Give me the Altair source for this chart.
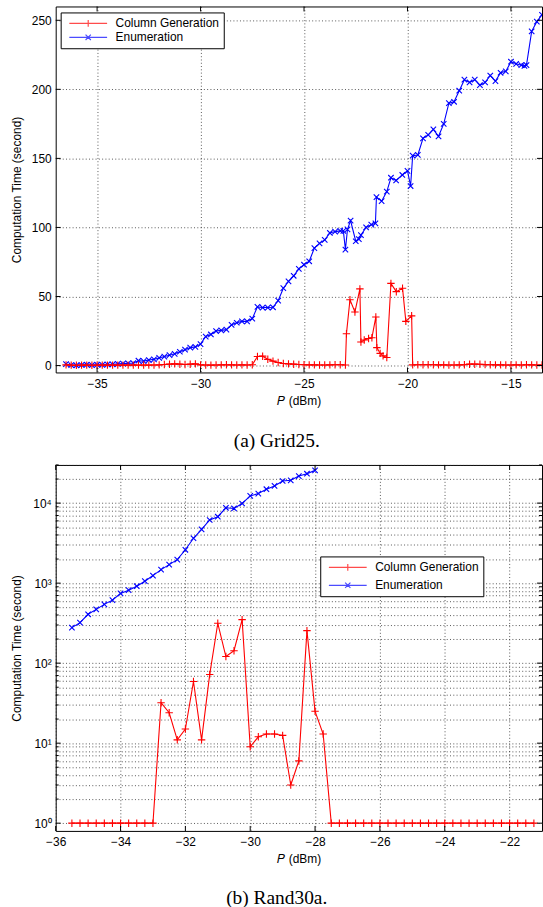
import altair as alt
import pandas as pd

# ---------------- (a) Grid25 : transmit power P (dBm) vs. computation time (s)
grid_cg_p = [
    -36.5, -36.25, -36.0, -35.75, -35.5, -35.25, -35.0, -34.75, -34.5, -34.25,
    -34.0, -33.75, -33.5, -33.25, -33.0, -32.75, -32.5, -32.25, -32.0, -31.75,
    -31.5, -31.25, -31.0, -30.75, -30.5, -30.25, -30.0, -29.75, -29.5, -29.25,
    -29.0, -28.75, -28.5, -28.25, -28.0, -27.75, -27.5, -27.25, -27.0, -26.75,
    -26.5, -26.25, -26.0, -25.75, -25.5, -25.25, -25.0, -24.75, -24.5, -24.25,
    -24.0, -23.75, -23.5, -23.25, -23.0, -22.95, -22.78, -22.54, -22.3, -22.25,
    -22.09, -21.88, -21.72, -21.53, -21.48, -21.32, -21.18, -21.0, -20.8, -20.54,
    -20.24, -20.08, -19.8, -19.75, -19.5, -19.25, -19.0, -18.75, -18.5, -18.25,
    -18.0, -17.75, -17.5, -17.25, -17.0, -16.75, -16.5, -16.25, -16.0, -15.75,
    -15.5, -15.25, -15.0, -14.75, -14.5, -14.25, -14.0, -13.75, -13.5]
grid_cg_t = [
    0.5, 0.3, 0.2, 0.3, 0.3, 0.2, 0.3, 0.3, 0.3, 0.3,
    0.3, 0.3, 0.3, 0.3, 0.3, 0.4, 0.3, 0.4, 0.5, 0.8,
    1.0, 1.2, 1.0, 0.8, 1.0, 1.2, 0.5, 0.4, 0.3, 0.4,
    0.5, 0.6, 0.5, 0.4, 0.5, 0.4, 0.6, 6.5, 6.8, 4.5,
    3.2, 2.2, 1.5, 1.2, 1.0, 0.8, 0.6, 0.5, 0.5, 0.4,
    0.4, 0.5, 0.6, 0.6, 0.4, 23.0, 47.6, 38.8, 55.5, 17.0,
    18.5, 19.6, 20.1, 35.2, 13.0, 8.8, 7.0, 5.8, 59.5, 53.5,
    56.0, 32.0, 36.0, 0.5, 0.6, 0.6, 0.6, 0.6, 0.5, 0.5,
    0.4, 0.4, 0.5, 0.6, 1.0, 1.0, 0.9, 0.7, 0.6, 0.5,
    0.5, 0.4, 0.4, 0.5, 0.4, 0.6, 0.5, 0.4, 0.4]
grid_en_p = [
    -36.5, -36.25, -36.0, -35.75, -35.5, -35.25, -35.0, -34.75, -34.5, -34.25,
    -34.0, -33.75, -33.5, -33.25, -33.0, -32.75, -32.5, -32.25, -32.0, -31.75,
    -31.5, -31.25, -31.0, -30.75, -30.5, -30.25, -30.0, -29.75, -29.5, -29.25,
    -29.0, -28.75, -28.5, -28.25, -28.0, -27.75, -27.5, -27.25, -27.0, -26.75,
    -26.5, -26.25, -26.0, -25.75, -25.5, -25.25, -25.0, -24.75, -24.5, -24.25,
    -24.0, -23.75, -23.5, -23.25, -23.1, -23.0, -22.9, -22.75, -22.5, -22.35,
    -22.25, -22.0, -21.75, -21.55, -21.5, -21.25, -21.0, -20.8, -20.55, -20.25,
    -20.0, -19.85, -19.75, -19.5, -19.25, -19.0, -18.75, -18.5, -18.25, -18.0,
    -17.75, -17.5, -17.25, -17.0, -16.75, -16.5, -16.25, -16.0, -15.75, -15.5,
    -15.25, -15.0, -14.75, -14.5, -14.35, -14.25, -14.0, -13.75, -13.5]
grid_en_t = [
    1.0, 0.3, 0.2, 0.4, 0.6, 0.3, 0.6, 0.5, 0.9, 0.8,
    1.2, 1.4, 1.6, 1.8, 3.5, 3.2, 4.0, 4.5, 5.5, 6.5,
    7.5, 8.5, 10.0, 11.5, 13.0, 13.5, 15.5, 21.0, 22.5, 25.0,
    25.5, 26.0, 29.5, 31.0, 32.0, 32.0, 34.0, 42.5, 42.0, 42.0,
    42.2, 47.0, 56.0, 61.0, 65.0, 70.0, 73.0, 75.5, 85.0, 88.5,
    91.0, 96.0, 97.0, 97.5, 97.5, 84.0, 98.6, 105.0, 90.0, 91.5,
    94.5, 100.0, 102.0, 103.0, 122.0, 119.0, 126.0, 136.0, 134.0, 138.0,
    141.0, 130.0, 152.0, 152.5, 164.5, 167.0, 171.0, 166.0, 175.0, 190.0,
    191.0, 199.0, 207.0, 205.0, 207.0, 203.0, 205.0, 210.0, 206.0, 212.0,
    213.0, 220.0, 218.5, 217.5, 217.0, 217.5, 242.0, 249.0, 254.0]

# ---------------- (b) Rand30a
rand_cg_p = [
    -35.5, -35.25, -35.0, -34.75, -34.5, -34.25, -34.0, -33.75, -33.5, -33.25,
    -33.0, -32.75, -32.5, -32.25, -32.0, -31.75, -31.5, -31.25, -31.0, -30.75,
    -30.5, -30.25, -30.0, -29.75, -29.5, -29.25, -29.0, -28.75, -28.5, -28.25,
    -28.0, -27.75, -27.5, -27.25, -27.0, -26.75, -26.5, -26.25, -26.0, -25.75,
    -25.5, -25.25, -25.0, -24.75, -24.5, -24.25, -24.0, -23.75, -23.5, -23.25,
    -23.0, -22.75, -22.5, -22.25, -22.0, -21.75, -21.5, -21.25]
rand_cg_t = [
    1, 1, 1, 1, 1, 1, 1, 1, 1, 1,
    1, 32, 24, 11, 15, 59, 11, 72, 315, 121,
    143, 350, 9, 12, 13, 13, 12.5, 3, 6, 255,
    25, 13, 1, 1, 1, 1, 1, 1, 1, 1,
    1, 1, 1, 1, 1, 1, 1, 1, 1, 1,
    1, 1, 1, 1, 1, 1, 1, 1]
rand_en_p = [
    -35.5, -35.25, -35.0, -34.75, -34.5, -34.25, -34.0, -33.75, -33.5, -33.25,
    -33.0, -32.75, -32.5, -32.25, -32.0, -31.75, -31.5, -31.25, -31.0, -30.75,
    -30.5, -30.25, -30.0, -29.75, -29.5, -29.25, -29.0, -28.75, -28.5, -28.25,
    -28.0]
rand_en_t = [
    278, 321, 408, 470, 543, 613, 743, 817, 915, 1057,
    1243, 1475, 1703, 1963, 2612, 3638, 4701, 6150, 6761, 8745,
    8570, 9890, 12300, 13150, 14920, 16400, 18900, 19280, 21800, 23300,
    25660]

# ---------------- axes
grid_xticks = [-35, -30, -25, -20, -15]
grid_yticks = [0, 50, 100, 150, 200, 250]
rand_xticks = [-36, -34, -32, -30, -28, -26, -24, -22]
rand_ydecades = [1, 10, 100, 1000, 10000]
rand_yminor = [2, 3, 4, 5, 6, 7, 8, 9,
               20, 30, 40, 50, 60, 70, 80, 90,
               200, 300, 400, 500, 600, 700, 800, 900,
               2000, 3000, 4000, 5000, 6000, 7000, 8000, 9000,
               20000, 30000]
decade_labels = ["10\u2070", "10\u00b9", "10\u00b2", "10\u00b3", "10\u2074"]

SERIES = ["Column Generation", "Enumeration"]
RED, BLUE = "#ff0000", "#0000ff"
SANS, SERIF = "Liberation Sans", "Liberation Serif"
W, H = 489, 368

PLUS = "M-1,0H1M0,-1V1"
CROSS = "M-1,-1L1,1M-1,1L1,-1"
LEG_PLUS = "M-1,0H1M0,-0.18V0.18"
LEG_CROSS = "M-1,0H1M-0.14,-0.14L0.14,0.14M-0.14,0.14L0.14,-0.14"

GRID = dict(grid=True, gridColor="#222222", gridOpacity=0.75, gridDash=[1, 2.3], gridWidth=1)
TEXT = dict(labelFont=SANS, labelFontSize=12, labelColor="black",
            titleFont=SANS, titleFontSize=12, titleFontWeight="normal", titleColor="black",
            ticks=False, tickSize=0, domain=False, labelOverlap=False)


def x_axis(values):
    return alt.Axis(values=values, title="\U0001d443 (dBm)", labelPadding=6, titlePadding=6,
                    labelFlush=False, **GRID, **TEXT)


def y_axis(values, label_expr=None):
    extra = {"labelExpr": label_expr} if label_expr else {}
    return alt.Axis(values=values, title="Computation Time (second)", labelPadding=4.5,
                    minExtent=26, maxExtent=26, titlePadding=6, **GRID, **TEXT, **extra)


def legend(lx, ly, row_pad):
    return alt.Legend(title=None, orient="none", legendX=lx, legendY=ly,
                      fillColor="white", strokeColor="black", padding=4.5,
                      symbolSize=1444, symbolStrokeWidth=1.2, symbolOffset=3.2,
                      labelFont=SANS, labelFontSize=12, labelColor="black", labelOffset=7.5,
                      clipHeight=13, rowPadding=row_pad)


def panel(cg_p, cg_t, en_p, en_t, xs, ys, xax, yax, xticks, ymajor, yminor, leg, caption, cap_off):
    X = alt.X("p:Q", scale=xs, axis=xax)
    Y = alt.Y("t:Q", scale=ys, axis=yax)
    cg = pd.DataFrame({"p": cg_p, "t": cg_t})
    en = pd.DataFrame({"p": en_p, "t": en_t})

    layers = []
    for df, col, shape, size in [(en, BLUE, CROSS, 30), (cg, RED, PLUS, 56)]:
        base = alt.Chart(df)
        layers.append(base.mark_line(color=col, strokeWidth=1.1, clip=True).encode(x=X, y=Y))
        layers.append(base.mark_point(shape=shape, size=size, color=col, filled=False,
                                      strokeWidth=1.1, opacity=1, clip=True).encode(x=X, y=Y))

    # inward tick marks on all four sides of the box
    xt = alt.Chart(pd.DataFrame({"p": xticks}))
    layers.append(xt.mark_rule(color="black").encode(x=X, y=alt.value(0), y2=alt.value(5)))
    layers.append(xt.mark_rule(color="black").encode(x=X, y=alt.value(H), y2=alt.value(H - 5)))
    for vals, ln in [(ymajor, 5), (yminor, 3)]:
        if not vals:
            continue
        yt = alt.Chart(pd.DataFrame({"t": vals}))
        layers.append(yt.mark_rule(color="black").encode(y=Y, x=alt.value(0), x2=alt.value(ln)))
        layers.append(yt.mark_rule(color="black").encode(y=Y, x=alt.value(W), x2=alt.value(W - ln)))

    # legend entries (symbols only appear in the legend box)
    lg = pd.DataFrame({"series": SERIES})
    layers.append(alt.Chart(lg).mark_point(filled=False, clip=True, strokeWidth=1.2).encode(
        x=alt.value(-60), y=alt.value(-60),
        color=alt.Color("series:N", scale=alt.Scale(domain=SERIES, range=[RED, BLUE]), legend=leg),
        shape=alt.Shape("series:N", scale=alt.Scale(domain=SERIES, range=[LEG_PLUS, LEG_CROSS]),
                        legend=leg),
    ))

    return alt.layer(*layers).properties(
        width=W, height=H,
        title=alt.TitleParams(caption, orient="bottom", font=SERIF, fontSize=19.5,
                              fontWeight="normal", color="black", offset=cap_off,
                              anchor="middle", frame="bounds"),
    )


label_expr = ("datum.value == 1 ? '%s' : datum.value == 10 ? '%s' : datum.value == 100 ? '%s' : "
              "datum.value == 1000 ? '%s' : datum.value == 10000 ? '%s' : ''") % tuple(decade_labels)

top = panel(grid_cg_p, grid_cg_t, grid_en_p, grid_en_t,
            alt.Scale(domain=[-37, -13.5], nice=False, zero=False),
            alt.Scale(domain=[-5, 260], nice=False, zero=False),
            x_axis(grid_xticks), y_axis(grid_yticks),
            grid_xticks, grid_yticks, [], legend(5, 6, 1), "(a) Grid25.", 26)

bottom = panel(rand_cg_p, rand_cg_t, rand_en_p, rand_en_t,
               alt.Scale(domain=[-36, -21], nice=False, zero=False),
               alt.Scale(type="log", domain=[0.8, 30000], nice=False),
               x_axis(rand_xticks), y_axis(rand_ydecades + rand_yminor, label_expr),
               rand_xticks, rand_ydecades, rand_yminor, legend(266, 92, 5), "(b) Rand30a.", 24)

chart = alt.vconcat(top, bottom, spacing=7).resolve_scale(
    color="independent", shape="independent"
).properties(
    padding={"left": 10, "top": 3, "right": 0, "bottom": 0},
    background="white",
).configure_view(stroke="black", strokeWidth=1)

chart.save("out.html", embed_options={"renderer": "svg", "actions": False})
